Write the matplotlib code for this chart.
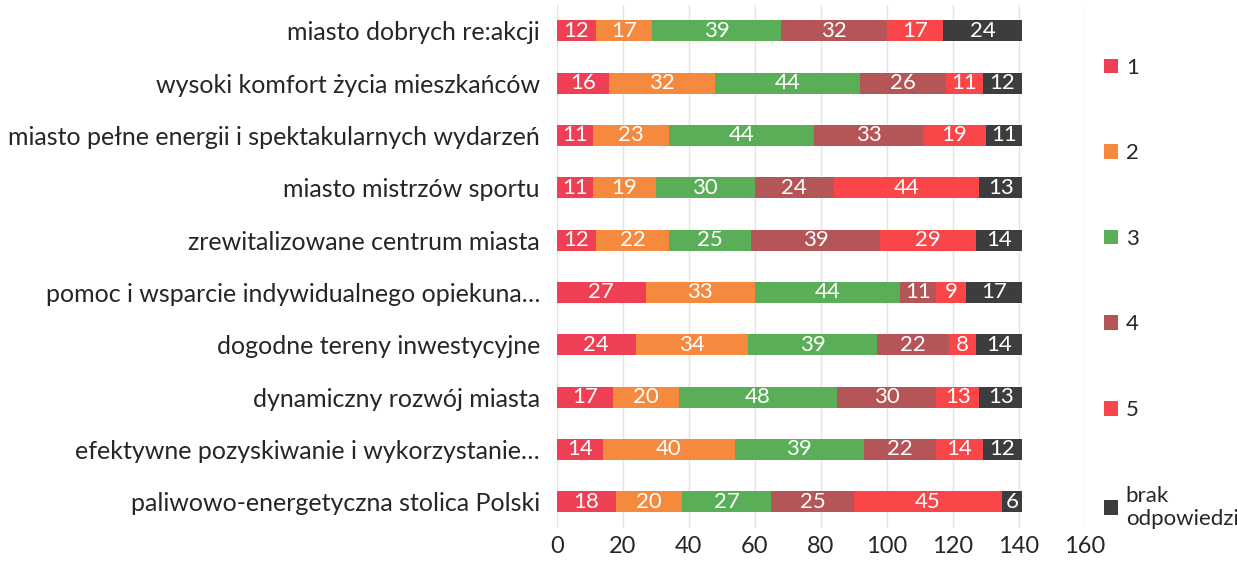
import numpy as np
import matplotlib.pyplot as plt

plt.rcParams["font.family"] = ["Lato", "DejaVu Sans"]

categories = [
    "miasto dobrych re:akcji",
    "wysoki komfort życia mieszkańców",
    "miasto pełne energii i spektakularnych wydarzeń",
    "miasto mistrzów sportu",
    "zrewitalizowane centrum miasta",
    "pomoc i wsparcie indywidualnego opiekuna…",
    "dogodne tereny inwestycyjne",
    "dynamiczny rozwój miasta",
    "efektywne pozyskiwanie i wykorzystanie…",
    "paliwowo-energetyczna stolica Polski",
]
series_names = ["1", "2", "3", "4", "5", "brak\nodpowiedzi"]
values = {
    "1": [12, 16, 11, 11, 12, 27, 24, 17, 14, 18],
    "2": [17, 32, 23, 19, 22, 33, 34, 20, 40, 20],
    "3": [39, 44, 44, 30, 25, 44, 39, 48, 39, 27],
    "4": [32, 26, 33, 24, 39, 11, 22, 30, 22, 25],
    "5": [17, 11, 19, 44, 29, 9, 8, 13, 14, 45],
    "brak\nodpowiedzi": [24, 12, 11, 13, 14, 17, 14, 13, 12, 6],
}
colors = ["#EE3F55", "#F5893E", "#5AAE57", "#B45558", "#FA4649", "#3C3D3F"]

fig = plt.figure(figsize=(12.37, 5.75), dpi=100)
ax = fig.add_axes([0.450, 0.082, 0.427, 0.91])

y = np.arange(len(categories))
left = np.zeros(len(categories))
for name, color in zip(series_names, colors):
    vals = np.array(values[name])
    bars = ax.barh(y, vals, left=left, height=0.4, color=color, label=name)
    for b, v in zip(bars, vals):
        ax.text(b.get_x() + b.get_width() / 2, b.get_y() + b.get_height() / 2,
                str(v), ha="center", va="center", color="white", fontsize=16)
    left += vals

ax.set_xlim(0, 160)
ax.set_xticks(range(0, 161, 20))
ax.set_ylim(len(categories) - 0.5, -0.5)
ax.set_yticks(y)
ax.set_yticklabels(categories, fontsize=18, color="#262626")
ax.tick_params(axis="x", labelsize=17, colors="#262626", length=0, pad=6)
ax.tick_params(axis="y", length=0, pad=12)
ax.grid(axis="x", color="#E4E4E4", linewidth=1)
ax.set_axisbelow(True)
for s in ax.spines.values():
    s.set_visible(False)

leg = fig.legend(loc="upper left", bbox_to_anchor=(0.885, 0.915), frameon=False,
                 fontsize=16, handlelength=0.65, handleheight=0.65,
                 handletextpad=0.35, labelspacing=2.95, borderaxespad=0)
for t in leg.get_texts():
    t.set_color("#262626")

fig.savefig("out.png", dpi=100)
